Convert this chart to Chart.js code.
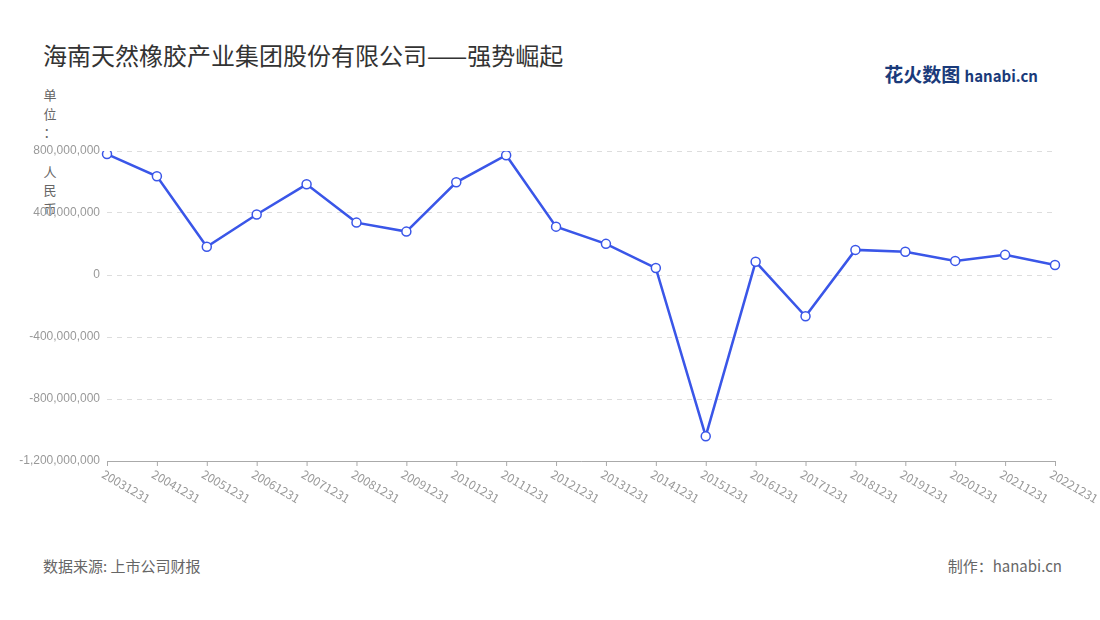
<!DOCTYPE html>
<html><head><meta charset="utf-8">
<script src="https://cdn.jsdelivr.net/npm/chart.js@4"></script>
<style>
body{margin:0;width:1100px;height:620px;background:#fff;font-family:"Noto Sans CJK SC","Noto Sans",sans-serif;position:relative;overflow:hidden}
#title{position:absolute;left:43px;top:37px;font-size:24px;color:#333}
#unit{position:absolute;left:42px;top:86px;width:16px;font-size:13px;color:#666;line-height:18.5px;text-align:center}
#src{position:absolute;left:43px;top:555px;font-size:15px;color:#666}
#made{position:absolute;right:38px;top:555px;font-size:15px;color:#666}
#logo{position:absolute;right:62px;top:60px;font-size:19px;font-weight:bold;color:#1a3a7a}
#logo span{font-size:15px;color:#1a3a7a}
#wrap{position:absolute;left:0;top:130px;width:1100px;height:400px}
</style></head><body>
<div id="title">海南天然橡胶产业集团股份有限公司——强势崛起</div>
<div id="unit"><div>单</div><div>位</div><div>：</div><div style="height:21px"></div><div>人</div><div>民</div><div>币</div></div>
<div id="logo">花火数图 <span>hanabi.cn</span></div>
<div id="src">数据来源: 上市公司财报</div>
<div id="made">制作：hanabi.cn</div>
<div id="wrap"><canvas id="c"></canvas></div>
<script>
const categories=["20031231","20041231","20051231","20061231","20071231","20081231","20091231","20101231","20111231","20121231","20131231","20141231","20151231","20161231","20171231","20181231","20191231","20201231","20211231","20221231"];
const profit=[780e6,637e6,182e6,390e6,585e6,338e6,280e6,598e6,773e6,312e6,201e6,45e6,-1040e6,85e6,-266e6,162e6,150e6,91e6,130e6,65e6];
const yTicks=[-1200e6,-800e6,-400e6,0,400e6,800e6];
const xlab={id:'xlab',afterDraw(ch){const x=ch.scales.x,c=ch.ctx,b=ch.chartArea.bottom;c.save();c.fillStyle='#999';c.font='12px "Noto Sans CJK SC","Noto Sans",sans-serif';c.textBaseline='middle';
categories.forEach((l,i)=>{const px=x.getPixelForValue(i);c.save();c.translate(px-4,b+12);c.rotate(Math.PI/6);c.fillText(l,0,0);c.restore();
c.strokeStyle='#aaa';c.beginPath();c.moveTo(px+0.5,b);c.lineTo(px+0.5,b+5);c.stroke();});c.restore();}};
new Chart(document.getElementById('c'),{type:'line',
data:{labels:categories,datasets:[{data:profit,borderColor:'#3a56e8',borderWidth:2.5,tension:0,pointRadius:4.5,pointBackgroundColor:'#fff',pointBorderColor:'#3a56e8',pointBorderWidth:1.5}]},
plugins:[xlab],
options:{responsive:true,maintainAspectRatio:false,animation:false,
layout:{padding:{left:0,right:45,top:21,bottom:61}},
plugins:{legend:{display:false},tooltip:{enabled:false}},
scales:{
x:{offset:false,grid:{display:false},border:{color:'#aaa'},ticks:{display:false}},
y:{min:-1200e6,max:800e6,afterBuildTicks:a=>{a.ticks=yTicks.map(v=>({value:v}))},afterFit:a=>{a.width=107},
grid:{color:'#ddd',tickLength:0,drawTicks:false},border:{display:false,dash:[5,5]},
ticks:{color:'#999',font:{size:12},padding:7,callback:v=>v.toLocaleString('en-US')}}
}}});
</script></body></html>
